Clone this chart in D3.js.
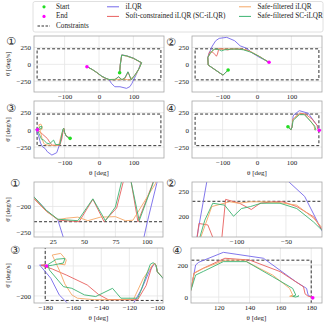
<!DOCTYPE html>
<html>
<head>
<meta charset="utf-8">
<script src="https://cdn.jsdelivr.net/npm/d3@7"></script>
<style>
body { margin: 0; background: #fff; }
svg text { font-family: "Liberation Serif", "DejaVu Serif", serif; fill: #222; }
</style>
</head>
<body>
<div id="chart"></div>
<script>
// --- DATA (theta [deg], theta_dot [deg/s]) ---
const methodNames = ["iLQR", "Soft-constrained iLQR (SC-iLQR)", "Safe-filtered iLQR", "Safe-filtered SC-iLQR"];
const methodColors = ["#7468ea", "#e8605e", "#f5a766", "#3cb371"];

const startPoints = [[60, -125], [-84, -84], [-84, -124], [90, 45]];
const endPoints = [[-35, -35], [35, 30], [-179, 0], [181, -5]];

const thetaLimit = 180;
const rateLimit = 230;

// scenario 1
const s1Ilqr = [[60,-125],[62,0],[66,140],[80,128],[100,92],[122,28],[116,-60],[108,-155],[101,-225],[96,-280],[90,-330],[80,-356],[61,-332],[46,-332],[36,-281],[29,-226],[20,-208],[8,-176],[-7,-119],[-20,-75],[-35,-35]];
const s1Sc = [[60,-125],[62,0],[66,136],[80,124],[100,88],[123,22],[115,-75],[104,-160],[93,-230],[85,-115],[76,-203],[66,-230],[57,-186],[46,-230],[30,-227],[20,-210],[8,-180],[-7,-120],[-20,-76],[-35,-35]];
const s1SfIlqr = [[60,-125],[62,0],[66,138],[80,124],[100,90],[124,24],[117,-60],[107,-155],[89,-227],[83,-228],[75,-220],[63,-221],[53,-228],[45,-221],[36,-223],[29,-226],[20,-209],[8,-178],[-7,-119],[-20,-75],[-35,-35]];
const s1SfSc = [[60,-125],[62,0],[66,138],[80,125],[100,90],[124,24],[116,-70],[105,-155],[94,-228],[84,-110],[75,-201],[67,-228],[57,-185],[45,-228],[29,-225],[20,-208],[8,-176],[-7,-119],[-20,-75],[-35,-35]];

// scenario 2
const s2Ilqr = [[-84,-84],[-99,-160],[-142,-10],[-143,100],[-140,156],[-130,271],[-120,350],[-110,385],[-88,400],[-65,350],[-49,274],[-31,240],[-12,163],[5,110],[20,70],[35,30]];
const s2Sc = [[-84,-84],[-99,-160],[-142,-10],[-143,100],[-140,150],[-138,184],[-129,181],[-121,140],[-118,120],[-115,150],[-111,234],[-97,226],[-85,213],[-76,226],[-63,229],[-53,229],[-39,219],[-22,198],[-12,166],[8,112],[20,75],[35,30]];
const s2SfIlqr = [[-84,-84],[-99,-160],[-142,-10],[-143,100],[-136,156],[-125,219],[-107,229],[-98,226],[-86,229],[-70,229],[-56,227],[-39,222],[-22,195],[-12,172],[8,115],[20,75],[35,30]];
const s2SfSc = [[-84,-84],[-99,-160],[-142,-10],[-143,100],[-137,156],[-132,191],[-124,226],[-112,222],[-103,199],[-95,215],[-86,219],[-75,226],[-56,226],[-39,215],[-22,187],[-12,167],[8,113],[20,75],[35,30]];

// scenario 3
const s3Ilqr = [[-84,-124],[-95,-92],[-100,-40],[-101,5],[-102,18],[-106,-40],[-111,-149],[-117,-249],[-123,-333],[-137,-367],[-150,-320],[-157,-270],[-164,-249],[-170,-193],[-176,-82],[-184,7],[-180,2]];
const s3Sc = [[-84,-124],[-95,-91],[-100,-40],[-101,5],[-102,18],[-104,-5],[-108,-130],[-114,-225],[-135,-225],[-142,-190],[-150,-127],[-165,-60],[-175,-20],[-183,5],[-180,10],[-179,0]];
const s3SfIlqr = [[-84,-124],[-95,-90],[-100,-40],[-101,5],[-102,20],[-104,0],[-110,-82],[-117,-222],[-130,-225],[-145,-225],[-157,-215],[-161,-193],[-166,-120],[-170,-27],[-175,73],[-169,84],[-165,40],[-166,7],[-170,15],[-167,12]];
const s3SfSc = [[-84,-124],[-95,-92],[-100,-40],[-101,5],[-103,22],[-105,12],[-107,-38],[-112,-171],[-114,-215],[-126,-215],[-132,-149],[-144,-204],[-152,-193],[-161,-149],[-167,-138],[-177,-27],[-178,10],[-172,45],[-166,50],[-167,20],[-175,5],[-179,0]];

// scenario 4
const s4Ilqr = [[90,45],[99,0],[102,44],[105,200],[107,217],[123,279],[149,242],[170,96],[177,54],[178,12],[181,-5],[180,0]];
const s4Sc = [[90,45],[99,0],[102,44],[104,150],[110,180],[124,242],[140,231],[160,158],[175,64],[176,20],[178,5],[181,0]];
const s4SfIlqr = [[90,45],[99,0],[102,44],[104,148],[110,179],[124,230],[136,231],[155,137],[166,54],[168,12],[166,5],[169,2],[167,10]];
const s4SfSc = [[90,45],[99,0],[102,44],[105,137],[110,160],[123,221],[138,221],[155,127],[168,54],[170,12],[168,5],[170,0],[172,8],[171,2]];

// ticks
const topThetaTicks = [-100, 0, 100];
const topRateTicks = [-250, 0, 250];
const zoom1ThetaTicks = [25, 50, 75, 100], zoom1RateTicks = [-250, -200];
const zoom2ThetaTicks = [-100, -50], zoom2RateTicks = [200, 250];
const zoom3ThetaTicks = [-180, -160, -140, -120, -100], zoom3RateTicks = [-200, 0];
const zoom4ThetaTicks = [120, 140, 160, 180], zoom4RateTicks = [0, 200];

const scenarios = [
    [s1Ilqr, s1Sc, s1SfIlqr, s1SfSc],
    [s2Ilqr, s2Sc, s2SfIlqr, s2SfSc],
    [s3Ilqr, s3Sc, s3SfIlqr, s3SfSc],
    [s4Ilqr, s4Sc, s4SfIlqr, s4SfSc]
];

// --- LAYOUT ---
const W = 328, H = 323;
const panels = [
    { sc: 0, box: [34, 36, 164, 92],  xd: [-189, 189], yd: [-410, 420], xt: topThetaTicks, yt: topRateTicks, num: "\u2460", nx: 11, ny: 41, ylab: true },
    { sc: 1, box: [192, 36, 322, 92], xd: [-189, 189], yd: [-410, 420], xt: topThetaTicks, yt: topRateTicks, num: "\u2461", nx: 171, ny: 42 },
    { sc: 2, box: [34, 101, 164, 158], xd: [-189, 189], yd: [-410, 420], xt: topThetaTicks, yt: topRateTicks, num: "\u2462", nx: 11, ny: 108, ylab: true, xlab: true },
    { sc: 3, box: [192, 101, 322, 158], xd: [-189, 189], yd: [-410, 420], xt: topThetaTicks, yt: topRateTicks, num: "\u2463", nx: 171, ny: 108, xlab: true },
    { sc: 0, box: [34, 182, 163, 237], xd: [10, 113], yd: [-260, -152], xt: zoom1ThetaTicks, yt: zoom1RateTicks, num: "\u2460", nx: 15, ny: 183, ylab: true },
    { sc: 1, box: [192, 182, 322, 237], xd: [-145, -13.5], yd: [156, 270], xt: zoom2ThetaTicks, yt: zoom2RateTicks, num: "\u2461", nx: 171, ny: 183 },
    { sc: 2, box: [34, 248, 163, 303], xd: [-188, -96], yd: [-247, 120], xt: zoom3ThetaTicks, yt: zoom3RateTicks, num: "\u2462", nx: 15, ny: 250, ylab: true, xlab: true },
    { sc: 3, box: [191, 248, 322, 303], xd: [102, 187], yd: [-37, 306], xt: zoom4ThetaTicks, yt: zoom4RateTicks, num: "\u2463", nx: 177, ny: 250, xlab: true }
];

const svg = d3.select("#chart").append("svg").attr("width", W).attr("height", H);
const fmt = d3.format("d");

function drawPanel(p, i) {
    const [x0, y0, x1, y1] = p.box;
    const x = d3.scaleLinear().domain(p.xd).range([x0, x1]);
    const y = d3.scaleLinear().domain(p.yd).range([y1, y0]);
    const clipId = "clip" + i;
    svg.append("clipPath").attr("id", clipId).append("rect")
        .attr("x", x0).attr("y", y0).attr("width", x1 - x0).attr("height", y1 - y0);

    const g = svg.append("g");

    // grid
    g.selectAll(".gx").data(p.xt).enter().append("line")
        .attr("x1", d => x(d)).attr("x2", d => x(d)).attr("y1", y0).attr("y2", y1)
        .attr("stroke", "#e4e4e4").attr("stroke-width", 0.8);
    g.selectAll(".gy").data(p.yt).enter().append("line")
        .attr("x1", x0).attr("x2", x1).attr("y1", d => y(d)).attr("y2", d => y(d))
        .attr("stroke", "#e4e4e4").attr("stroke-width", 0.8);

    const inner = g.append("g").attr("clip-path", `url(#${clipId})`);

    // constraints box
    inner.append("rect")
        .attr("x", x(-thetaLimit)).attr("y", y(rateLimit))
        .attr("width", x(thetaLimit) - x(-thetaLimit)).attr("height", y(-rateLimit) - y(rateLimit))
        .attr("fill", "none").attr("stroke", "#333").attr("stroke-width", 1)
        .attr("stroke-dasharray", "3,2");

    // trajectories
    const line = d3.line().x(d => x(d[0])).y(d => y(d[1]));
    scenarios[p.sc].forEach((traj, m) => {
        inner.append("path").datum(traj).attr("d", line)
            .attr("fill", "none").attr("stroke", methodColors[m])
            .attr("stroke-width", 0.9).attr("stroke-linejoin", "round");
    });

    // start / end markers
    inner.append("circle").attr("cx", x(startPoints[p.sc][0])).attr("cy", y(startPoints[p.sc][1]))
        .attr("r", 1.8).attr("fill", "#22dd22");
    inner.append("circle").attr("cx", x(endPoints[p.sc][0])).attr("cy", y(endPoints[p.sc][1]))
        .attr("r", 1.8).attr("fill", "#ff00ff");

    // frame
    g.append("rect").attr("x", x0).attr("y", y0).attr("width", x1 - x0).attr("height", y1 - y0)
        .attr("fill", "none").attr("stroke", "#a8a8a8").attr("stroke-width", 0.8);

    // axes
    const ax = g.append("g").attr("transform", `translate(0,${y1})`)
        .call(d3.axisBottom(x).tickValues(p.xt).tickSize(0).tickPadding(2.5).tickFormat(fmt));
    const ay = g.append("g").attr("transform", `translate(${x0},0)`)
        .call(d3.axisLeft(y).tickValues(p.yt).tickSize(0).tickPadding(3).tickFormat(fmt));
    [ax, ay].forEach(a => {
        a.select(".domain").remove();
        a.selectAll("text").style("font-size", "7px").style("font-family", "'Liberation Serif', serif").attr("fill", "#222");
    });

    // panel number
    svg.append("text").attr("x", p.nx).attr("y", p.ny).attr("text-anchor", "middle")
        .attr("dominant-baseline", "central").style("font-family", "'DejaVu Sans', sans-serif")
        .style("font-size", "11px").text(p.num);

    if (p.ylab) {
        svg.append("text").attr("transform", `translate(8,${(y0 + y1) / 2}) rotate(-90)`)
            .attr("text-anchor", "middle").attr("dominant-baseline", "central")
            .style("font-size", "7px").text("\u03B8\u0307 [deg/s]");
    }
    if (p.xlab) {
        svg.append("text").attr("x", (x0 + x1) / 2).attr("y", y1 + 15)
            .attr("text-anchor", "middle").attr("dominant-baseline", "central")
            .style("font-size", "7px").text("\u03B8 [deg]");
    }
}

panels.forEach(drawPanel);

// --- LEGEND ---
const leg = svg.append("g");
leg.append("rect").attr("x", 33).attr("y", 1.5).attr("width", 290).attr("height", 30.5).attr("rx", 2)
    .attr("fill", "#fff").attr("stroke", "#d8d8d8").attr("stroke-width", 0.8);
const rowY = [6.8, 16.4, 26];
leg.append("circle").attr("cx", 44).attr("cy", rowY[0]).attr("r", 1.6).attr("fill", "#22dd22");
leg.append("circle").attr("cx", 44).attr("cy", rowY[1]).attr("r", 1.6).attr("fill", "#ff00ff");
leg.append("line").attr("x1", 37.5).attr("x2", 50).attr("y1", rowY[2]).attr("y2", rowY[2])
    .attr("stroke", "#333").attr("stroke-width", 1).attr("stroke-dasharray", "2.5,1.5");
const legItems = [
    { x: 56, y: rowY[0], t: "Start" },
    { x: 56, y: rowY[1], t: "End" },
    { x: 56, y: rowY[2], t: "Constraints" }
];
const legCols = [[107, 0], [107, 1], [239, 2], [239, 3]];
legCols.forEach(([lx, m], k) => {
    const yy = rowY[k % 2];
    leg.append("line").attr("x1", lx).attr("x2", lx + 12).attr("y1", yy).attr("y2", yy)
        .attr("stroke", methodColors[m]).attr("stroke-width", 1);
    legItems.push({ x: lx + 18.5, y: yy, t: methodNames[m] });
});
leg.selectAll(".lt").data(legItems).enter().append("text")
    .attr("x", d => d.x).attr("y", d => d.y).attr("dominant-baseline", "central")
    .style("font-size", "7.2px").text(d => d.t);
</script>
</body>
</html>
